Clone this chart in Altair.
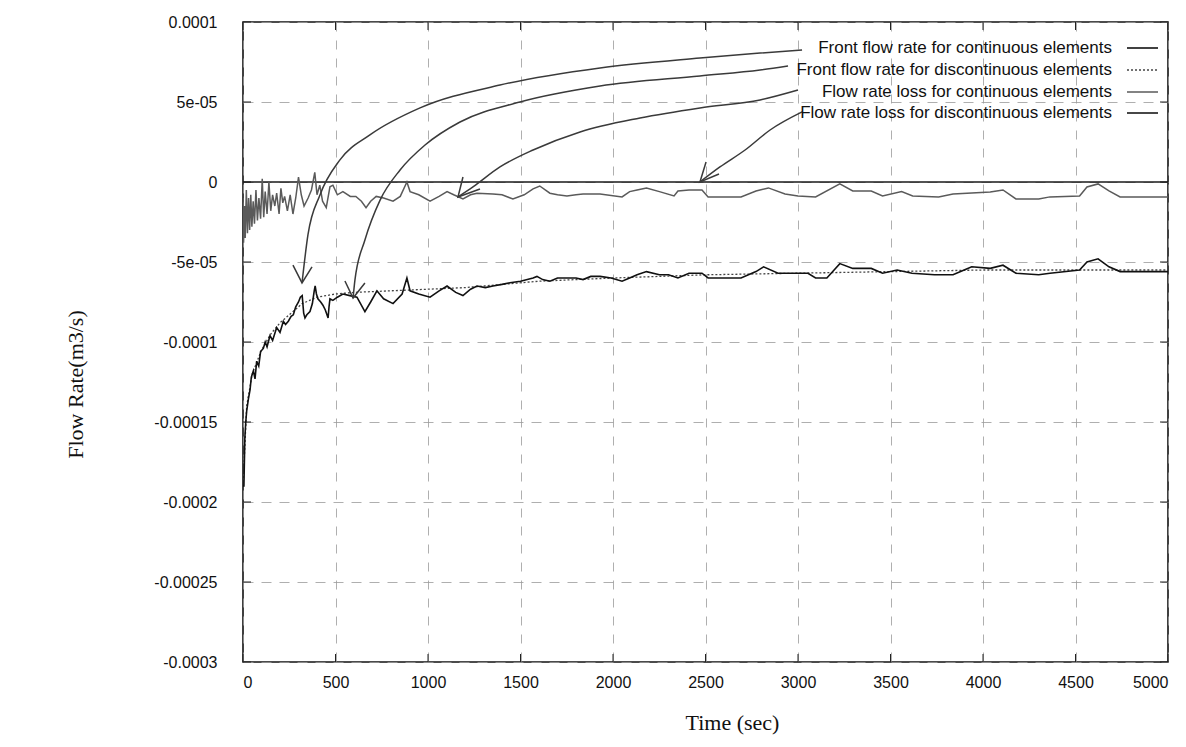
import altair as alt
import pandas as pd

# ---------------- data ----------------
X_TICKS = [0, 500, 1000, 1500, 2000, 2500, 3000, 3500, 4000, 4500, 5000]
Y_TICKS = [-0.0003, -0.00025, -0.0002, -0.00015, -0.0001, -5e-05, 0, 5e-05, 0.0001]
Y_TICK_LABELS = ["-0.0003", "-0.00025", "-0.0002", "-0.00015", "-0.0001", "-5e-05", "0", "5e-05", "0.0001"]

LEGEND_LABELS = [
    "Front flow rate for continuous elements",
    "Front flow rate for discontinuous elements",
    "Flow rate loss for continuous elements",
    "Flow rate loss for discontinuous elements",
]

# Front flow rate, continuous elements (values in 1e-5 m3/s)
T_FRONT_CONT = [0, 5, 10, 15, 20, 30, 38, 45, 56, 65, 74, 85, 95, 110, 120, 130, 146, 160, 182, 200,
                218, 230, 245, 260, 272, 285, 300, 310, 320, 328, 335, 345, 362, 375, 385, 390, 397, 405,
                420, 432, 445, 460, 465, 470, 486, 510, 540, 578, 616, 659, 690, 724, 760, 811, 860, 886,
                903, 950, 1011, 1060, 1103, 1150, 1189, 1230, 1265, 1310, 1351, 1400, 1443, 1500, 1568,
                1589, 1620, 1659, 1700, 1751, 1800, 1838, 1880, 1930, 1990, 2049, 2090, 2130, 2181, 2251,
                2300, 2351, 2411, 2481, 2514, 2600, 2692, 2773, 2814, 2892, 2980, 3054, 3095, 3156, 3226,
                3296, 3396, 3457, 3536, 3616, 3738, 3838, 3879, 3939, 4039, 4108, 4178, 4301, 4362, 4522,
                4562, 4622, 4681, 4741, 4843, 5000]
V_FRONT_CONT = [-19.0, -19.0, -16.0, -15.0, -14.3, -13.5, -13.0, -12.2, -11.8, -12.3, -11.2, -11.5, -10.6,
                -10.4, -10.0, -10.3, -9.6, -9.9, -9.1, -9.4, -8.7, -8.9, -8.7, -8.4, -8.3, -7.8, -7.5,
                -7.2, -7.1, -8.2, -8.5, -8.3, -8.1, -7.6, -6.8, -6.5, -7.0, -7.3, -7.5, -7.7, -8.0, -8.5,
                -7.8, -7.3, -7.4, -7.2, -7.0, -7.1, -7.2, -8.1, -7.5, -6.8, -7.3, -7.6, -7.0, -6.0, -6.8,
                -7.0, -7.2, -6.8, -6.5, -6.9, -7.1, -6.7, -6.5, -6.6, -6.5, -6.4, -6.3, -6.2, -6.0, -5.9,
                -6.1, -6.2, -6.0, -6.0, -6.0, -6.1, -5.9, -5.9, -6.0, -6.2, -6.0, -5.8, -5.6, -5.8, -5.8,
                -6.0, -5.7, -5.7, -6.0, -6.0, -6.0, -5.6, -5.3, -5.7, -5.7, -5.7, -6.0, -6.0, -5.1, -5.4,
                -5.4, -5.7, -5.5, -5.7, -5.8, -5.8, -5.6, -5.3, -5.4, -5.2, -5.7, -5.8, -5.7, -5.5, -5.0,
                -4.8, -5.3, -5.6, -5.6, -5.6]

# Front flow rate, discontinuous elements
T_FRONT_DISC = [0, 20, 50, 100, 150, 200, 260, 320, 400, 500, 600, 800, 1000, 1200, 1400, 1600, 1800,
                2000, 2500, 3000, 3500, 4000, 4500, 5000]
V_FRONT_DISC = [-19.0, -14.0, -12.0, -10.5, -9.5, -8.8, -8.2, -7.6, -7.2, -7.0, -6.9, -6.8, -6.7, -6.6,
                -6.4, -6.2, -6.1, -6.0, -5.8, -5.7, -5.6, -5.5, -5.5, -5.5]

# Flow rate loss, continuous elements
T_LOSS_CONT = [0, 3, 8, 12, 18, 24, 30, 36, 42, 48, 55, 62, 70, 78, 86, 95, 104, 112, 120, 130, 140, 150,
               160, 172, 182, 195, 205, 215, 225, 240, 255, 270, 285, 300, 315, 330, 352, 370, 388, 400,
               415, 430, 450, 470, 486, 510, 540, 580, 610, 640, 665, 690, 720, 760, 811, 850, 886, 903,
               950, 1011, 1060, 1103, 1139, 1189, 1230, 1265, 1351, 1400, 1459, 1520, 1568, 1604, 1659,
               1700, 1751, 1800, 1838, 1930, 2049, 2090, 2130, 2181, 2251, 2330, 2351, 2411, 2481, 2514,
               2692, 2773, 2840, 2930, 3000, 3095, 3226, 3296, 3396, 3457, 3560, 3620, 3760, 3838, 3939,
               4039, 4108, 4178, 4301, 4362, 4522, 4562, 4622, 4681, 4741, 5000]
V_LOSS_CONT = [-1.0, -3.8, -1.5, -3.5, -0.5, -3.2, -1.0, -3.0, -0.8, -2.8, -1.2, -2.6, -0.5, -2.4, -1.0,
               -2.3, 0.2, -2.2, -0.6, -2.0, 0.0, -1.8, -0.8, -1.5, -0.7, -2.0, -0.4, -1.3, -0.9, -1.8,
               -0.8, -2.0, -1.0, 0.3, -0.8, -1.5, -1.0, -0.5, 0.6, -0.8, -0.2, -1.2, -1.6, -0.3, -0.2,
               -0.8, -0.6, -0.9, -0.9, -1.2, -1.6, -1.2, -0.9, -1.0, -1.2, -0.9, 0.0, -0.6, -0.8, -1.2,
               -0.9, -0.6, -0.8, -1.06, -0.8, -0.7, -0.75, -0.8, -1.06, -0.8, -0.43, -0.25, -0.7, -0.8,
               -0.87, -0.8, -0.75, -0.75, -0.93, -0.6, -0.5, -0.37, -0.6, -0.87, -0.56, -0.5, -0.5,
               -0.93, -0.93, -0.56, -0.37, -0.75, -0.87, -0.93, -0.12, -0.56, -0.56, -0.87, -0.6, -0.87,
               -0.93, -0.75, -0.68, -0.62, -0.5, -1.06, -1.06, -0.93, -0.87, -0.31, -0.12, -0.56, -0.93,
               -0.93]

# Flow rate loss, discontinuous elements
T_LOSS_DISC = [0, 500, 1000, 1500, 2000, 2500, 3000, 3500, 4000, 4500, 5000]
V_LOSS_DISC = [0, 0, 0, 0, 0, 0, 0, 0, 0, 0, 0]

# Annotation arrows (time, value) pairs
ARROW_T = [
    [3022, 2795, 2470, 1930, 1389, 957, 686, 524, 416, 351, 319],
    [2946, 2795, 2470, 1930, 1497, 1173, 984, 849, 741, 659, 605, 595],
    [3000, 2795, 2470, 2146, 1822, 1568, 1389, 1243, 1162],
    [3022, 2849, 2714, 2578, 2470],
]
ARROW_V = [
    [8.25e-05, 8.06e-05, 7.75e-05, 7.13e-05, 6.06e-05, 4.63e-05, 2.94e-05, 1.38e-05, -8.1e-06, -3.31e-05, -6.31e-05],
    [7.25e-05, 7.0e-05, 6.63e-05, 6.0e-05, 5.0e-05, 3.75e-05, 2.31e-05, 7.5e-06, -1.13e-05, -3.63e-05, -6.13e-05, -7.25e-05],
    [5.75e-05, 5.13e-05, 4.63e-05, 4.0e-05, 3.13e-05, 2.0e-05, 9.4e-06, -3.1e-06, -9.4e-06],
    [4.38e-05, 3.25e-05, 2.0e-05, 9.4e-06, 0.0],
]
HEAD_T = [[270, 319, 373], [551, 595, 659], [1189, 1162, 1281], [2503, 2470, 2573]]
HEAD_V = [[-5.19e-05, -6.31e-05, -5.31e-05], [-6.19e-05, -7.25e-05, -6.31e-05],
          [3.1e-06, -9.4e-06, -4.4e-06], [1.25e-05, 0.0, 5e-06]]

# ---------------- build ----------------
W, H = 925, 640
SANS = "Liberation Sans"
SERIF = "Liberation Serif"

def series_df(ts, vs, scale=1e-5):
    return pd.DataFrame({"t": ts, "v": [v * scale for v in vs]})

label_expr = ""
for val, lab in zip(Y_TICKS, Y_TICK_LABELS):
    label_expr += f"abs(datum.value - ({val})) < 1e-9 ? '{lab}' : "
label_expr += "''"

xscale = alt.Scale(domain=[0, 5000], nice=False, zero=False)
yscale = alt.Scale(domain=[-0.0003, 0.0001], nice=False, zero=False)

x_axis = alt.Axis(values=X_TICKS, format="d", title="Time (sec)", grid=True, gridDash=[9, 9],
                  gridColor="#9a9a9a", gridWidth=0.8, ticks=False, domain=False,
                  labelFont=SANS, labelFontSize=16, labelColor="#111", labelPadding=12,
                  titleFont=SERIF, titleFontSize=22, titleFontWeight="normal", titleColor="#111",
                  titleX=489, titleY=60, titleBaseline="middle")
y_axis = alt.Axis(values=Y_TICKS, labelExpr=label_expr, title="Flow Rate(m3/s)", grid=True,
                  gridDash=[10, 8], gridColor="#9a9a9a", gridWidth=0.8, ticks=False, domain=False,
                  labelFont=SANS, labelFontSize=16, labelColor="#111", labelPadding=26,
                  titleFont=SERIF, titleFontSize=22, titleFontWeight="normal", titleColor="#111",
                  titleX=-168, titleY=362, titleBaseline="middle", titleAngle=-90)

base_grid = alt.Chart(pd.DataFrame({"t": [0], "v": [0.0]})).mark_point(opacity=0).encode(
    x=alt.X("t:Q", scale=xscale, axis=x_axis),
    y=alt.Y("v:Q", scale=yscale, axis=y_axis),
)

def line_layer(df, color, width, dash=None):
    kw = dict(color=color, strokeWidth=width, clip=True, interpolate="linear")
    if dash:
        kw["strokeDash"] = dash
    return alt.Chart(df).mark_line(**kw).encode(
        x=alt.X("t:Q", scale=xscale), y=alt.Y("v:Q", scale=yscale))

loss_disc = line_layer(series_df(T_LOSS_DISC, V_LOSS_DISC, 1.0), "#1a1a1a", 1.6)
loss_cont = line_layer(series_df(T_LOSS_CONT, V_LOSS_CONT), "#5a5a5a", 1.5)
front_disc = line_layer(series_df(T_FRONT_DISC, V_FRONT_DISC), "#444", 1.3, [2, 2])
front_cont = line_layer(series_df(T_FRONT_CONT, V_FRONT_CONT), "#111", 1.6)

# arrows
rows = []
for i, (ts, vs) in enumerate(zip(ARROW_T, ARROW_V)):
    for j, (t, v) in enumerate(zip(ts, vs)):
        rows.append({"id": f"a{i}", "seq": j, "t": t, "v": v})
heads = []
for i, (ts, vs) in enumerate(zip(HEAD_T, HEAD_V)):
    for j, (t, v) in enumerate(zip(ts, vs)):
        heads.append({"id": f"h{i}", "seq": j, "t": t, "v": v})
arrows = alt.Chart(pd.DataFrame(rows)).mark_line(color="#3a3a3a", strokeWidth=1.5, interpolate="monotone").encode(
    x=alt.X("t:Q", scale=xscale), y=alt.Y("v:Q", scale=yscale),
    detail="id:N", order="seq:Q")
arrow_heads = alt.Chart(pd.DataFrame(heads)).mark_line(color="#3a3a3a", strokeWidth=1.5, interpolate="linear").encode(
    x=alt.X("t:Q", scale=xscale), y=alt.Y("v:Q", scale=yscale),
    detail="id:N", order="seq:Q")

# inward tick marks on all four sides
xt = pd.DataFrame({"t": X_TICKS})
yt = pd.DataFrame({"v": Y_TICKS})
tick_bottom = alt.Chart(xt).mark_rule(color="#222", strokeWidth=1).encode(
    x=alt.X("t:Q", scale=xscale), y=alt.value(H), y2=alt.value(H - 8))
tick_top = alt.Chart(xt).mark_rule(color="#222", strokeWidth=1).encode(
    x=alt.X("t:Q", scale=xscale), y=alt.value(0), y2=alt.value(8))
tick_left = alt.Chart(yt).mark_rule(color="#222", strokeWidth=1).encode(
    y=alt.Y("v:Q", scale=yscale), x=alt.value(0), x2=alt.value(8))
tick_right = alt.Chart(yt).mark_rule(color="#222", strokeWidth=1).encode(
    y=alt.Y("v:Q", scale=yscale), x=alt.value(W), x2=alt.value(W - 8))

# legend (text right-aligned, sample line to the right)
LEG_Y = [26, 48, 70, 91]
LEG_STYLE = [("#111", 1.6, None), ("#444", 1.3, [2, 2]), ("#5a5a5a", 1.5, None), ("#1a1a1a", 1.6, None)]
legend_layers = []
for lab, yy, (col, sw, dash) in zip(LEGEND_LABELS, LEG_Y, LEG_STYLE):
    legend_layers.append(
        alt.Chart(pd.DataFrame({"label": [lab]})).mark_text(
            align="right", baseline="middle", font=SANS, fontSize=17, color="#111"
        ).encode(text="label:N", x=alt.value(869), y=alt.value(yy))
    )
    kw = dict(color=col, strokeWidth=sw)
    if dash:
        kw["strokeDash"] = dash
    legend_layers.append(
        alt.Chart(pd.DataFrame({"label": [lab]})).mark_rule(**kw).encode(
            x=alt.value(884), x2=alt.value(915), y=alt.value(yy))
    )

chart = alt.layer(
    base_grid, tick_bottom, tick_top, tick_left, tick_right,
    loss_disc, loss_cont, front_disc, front_cont, arrows, arrow_heads, *legend_layers
).properties(
    width=W, height=H,
    autosize=alt.AutoSizeParams(type="none"),
    padding={"left": 235, "top": 14, "right": 10, "bottom": 75},
    background="white",
).configure_view(stroke="#111", strokeWidth=1.6)

chart.save("out.html", embed_options={"renderer": "svg", "actions": False})
